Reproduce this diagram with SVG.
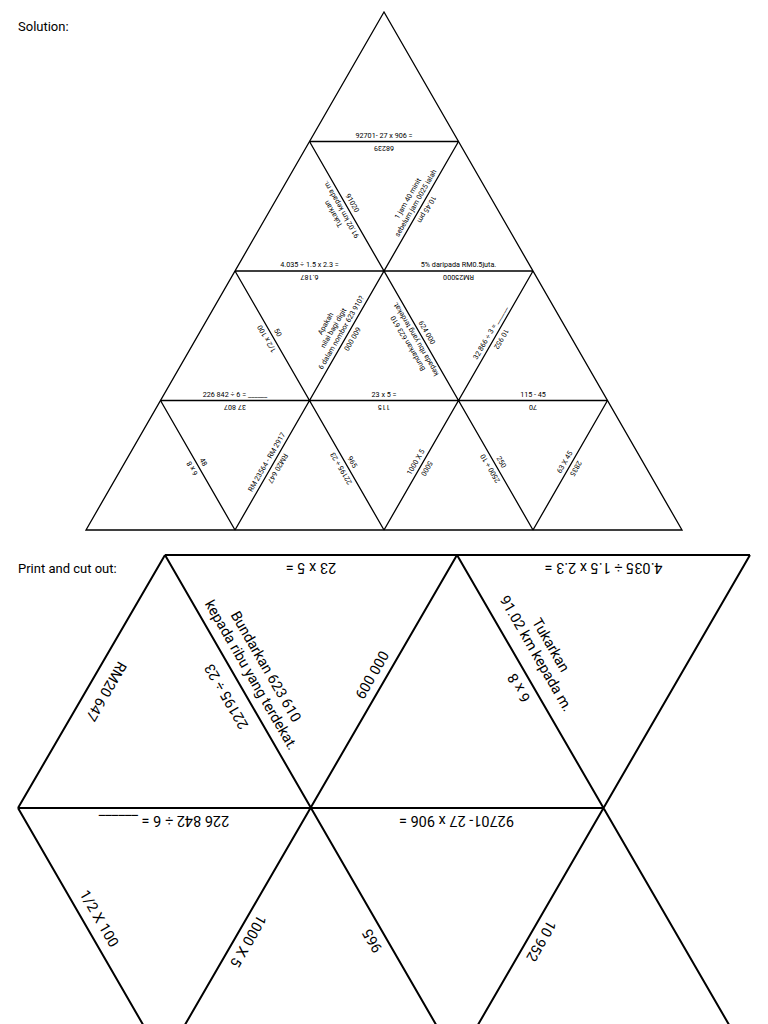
<svg xmlns="http://www.w3.org/2000/svg" width="768" height="1024" viewBox="0 0 768 1024">
<style>
text{font-family:Roboto,"Liberation Sans",sans-serif;fill:#000;text-anchor:middle}
.s{font-size:7.2px}
.b{font-size:14.5px}
.h{font-size:13px;text-anchor:start}
.l1{stroke:#000;stroke-width:1.3;fill:none}
.l2{stroke:#000;stroke-width:2;fill:none}
</style>
<rect width="768" height="1024" fill="#fff"/>
<text class="h" x="18" y="31">Solution:</text>
<text class="h" x="18" y="573">Print and cut out:</text>
<g id="connectors">
<polygon class="l1" points="384,12 86,530 682,530"/>
<path class="l1" d="M309.5,141.5H458.5M235,271H533M160.5,400.5H607.5M458.5,141.5L235,530M533,271L384,530M607.5,400.5L533,530M309.5,141.5L533,530M235,271L384,530M160.5,400.5L235,530"/>
<path class="l2" d="M165,555H750M18,808H603M165,555L18,808M165,555L457,1061M457,555L164,1061M457,555L750,1061M750,555L457,1061M18,808L164,1061"/>
</g>
<g id="solution">
<g id="t1" class="s">
<text transform="translate(384 141.5) rotate(0)" y="-4">92701- 27 x 906 =</text>
<text transform="translate(384 141.5) rotate(180)" y="-4">68239</text>
<text transform="translate(346.75 206.25) rotate(240)"><tspan x="0" y="-13">Tukarkan</tspan><tspan x="0" y="-4">91.02 km kepada m.</tspan></text>
<text transform="translate(346.75 206.25) rotate(60)" y="-4">91020</text>
<text transform="translate(421.25 206.25) rotate(300)"><tspan x="0" y="-13">1 jam 40 minit</tspan><tspan x="0" y="-4">sebelum jam 0025 ialah</tspan></text>
<text transform="translate(421.25 206.25) rotate(120)" y="-4">10.45 pm</text>
<text transform="translate(309.5 271) rotate(0)" y="-4">4.035 ÷ 1.5 x 2.3 =</text>
<text transform="translate(309.5 271) rotate(180)" y="-4">6.187</text>
<text transform="translate(458.5 271) rotate(0)" y="-4">5% daripada RM0.5juta.</text>
<text transform="translate(458.5 271) rotate(180)" y="-4">RM25000</text>
<text transform="translate(272.25 335.75) rotate(60)" y="-4">50</text>
<text transform="translate(272.25 335.75) rotate(240)" y="-4">1/2 x 100</text>
<text transform="translate(346.75 335.75) rotate(300)"><tspan x="0" y="-22">Apakah</tspan><tspan x="0" y="-13">nilai bagi digit</tspan><tspan x="0" y="-4">6 dalam nombor 623 910?</tspan></text>
<text transform="translate(346.75 335.75) rotate(120)" y="-4">600 000</text>
<text transform="translate(421.25 335.75) rotate(240)"><tspan x="0" y="-13">Bundarkan 623 610</tspan><tspan x="0" y="-4">kepada ribu yang terdekat.</tspan></text>
<text transform="translate(421.25 335.75) rotate(60)" y="-4">624 000</text>
<text transform="translate(495.75 335.75) rotate(300)" y="-4">32 866 ÷ 3 = ______</text>
<text transform="translate(495.75 335.75) rotate(120)" y="-4">10 952</text>
<text transform="translate(235 400.5) rotate(0)" y="-4">226 842 ÷ 6 = ______</text>
<text transform="translate(235 400.5) rotate(180)" y="-4">37 807</text>
<text transform="translate(384 400.5) rotate(0)" y="-4">23 x 5 =</text>
<text transform="translate(384 400.5) rotate(180)" y="-4">115</text>
<text transform="translate(533 400.5) rotate(0)" y="-4">115 - 45</text>
<text transform="translate(533 400.5) rotate(180)" y="-4">70</text>
<text transform="translate(197.75 465.25) rotate(60)" y="-4">48</text>
<text transform="translate(197.75 465.25) rotate(240)" y="-4">6 x 8</text>
<text transform="translate(272.25 465.25) rotate(300)" y="-4">RM 23564 - RM 2917</text>
<text transform="translate(272.25 465.25) rotate(120)" y="-4">RM20 647</text>
<text transform="translate(346.75 465.25) rotate(60)" y="-4">965</text>
<text transform="translate(346.75 465.25) rotate(240)" y="-4">22195 ÷ 23</text>
<text transform="translate(421.25 465.25) rotate(300)" y="-4">1000 X 5</text>
<text transform="translate(421.25 465.25) rotate(120)" y="-4">5000</text>
<text transform="translate(495.75 465.25) rotate(60)" y="-4">250</text>
<text transform="translate(495.75 465.25) rotate(240)" y="-4">2500 ÷ 10</text>
<text transform="translate(570.25 465.25) rotate(300)" y="-4">63 X 45</text>
<text transform="translate(570.25 465.25) rotate(120)" y="-4">2835</text>
</g>
</g>
<g id="cutout" class="b">
<text transform="translate(311 555) rotate(180)" y="-8">23 x 5 =</text>
<text transform="translate(603.5 555) rotate(180)" y="-8">4.035 ÷ 1.5 x 2.3 =</text>
<text transform="translate(95 685) rotate(120)" y="-8">RM20 647</text>
<text transform="translate(240 681.5) rotate(60)"><tspan x="0" y="-25">Bundarkan 623 610</tspan><tspan x="0" y="-8">kepada ribu yang terdekat.</tspan></text>
<text transform="translate(237.5 690) rotate(240)" y="-8">22195 ÷ 23</text>
<text transform="translate(383.5 681.5) rotate(300)" y="-8">600 000</text>
<text transform="translate(525 660) rotate(60)"><tspan x="0" y="-25">Tukarkan</tspan><tspan x="0" y="-8">91.02 km kepada m.</tspan></text>
<text transform="translate(530 681.5) rotate(240)" y="-8">6 x 8</text>
<text transform="translate(164 808) rotate(180)" y="-8">226 842 ÷ 6 = ______</text>
<text transform="translate(456.5 808) rotate(180)" y="-8">92701- 27 x 906 =</text>
<text transform="translate(88 925) rotate(60)" y="-8">1/2 X 100</text>
<text transform="translate(237 934.5) rotate(120)" y="-8">1000 X 5</text>
<text transform="translate(383.5 934.5) rotate(240)" y="-8">965</text>
<text transform="translate(530 934.5) rotate(120)" y="-8">10 952</text>
</g>
</svg>
